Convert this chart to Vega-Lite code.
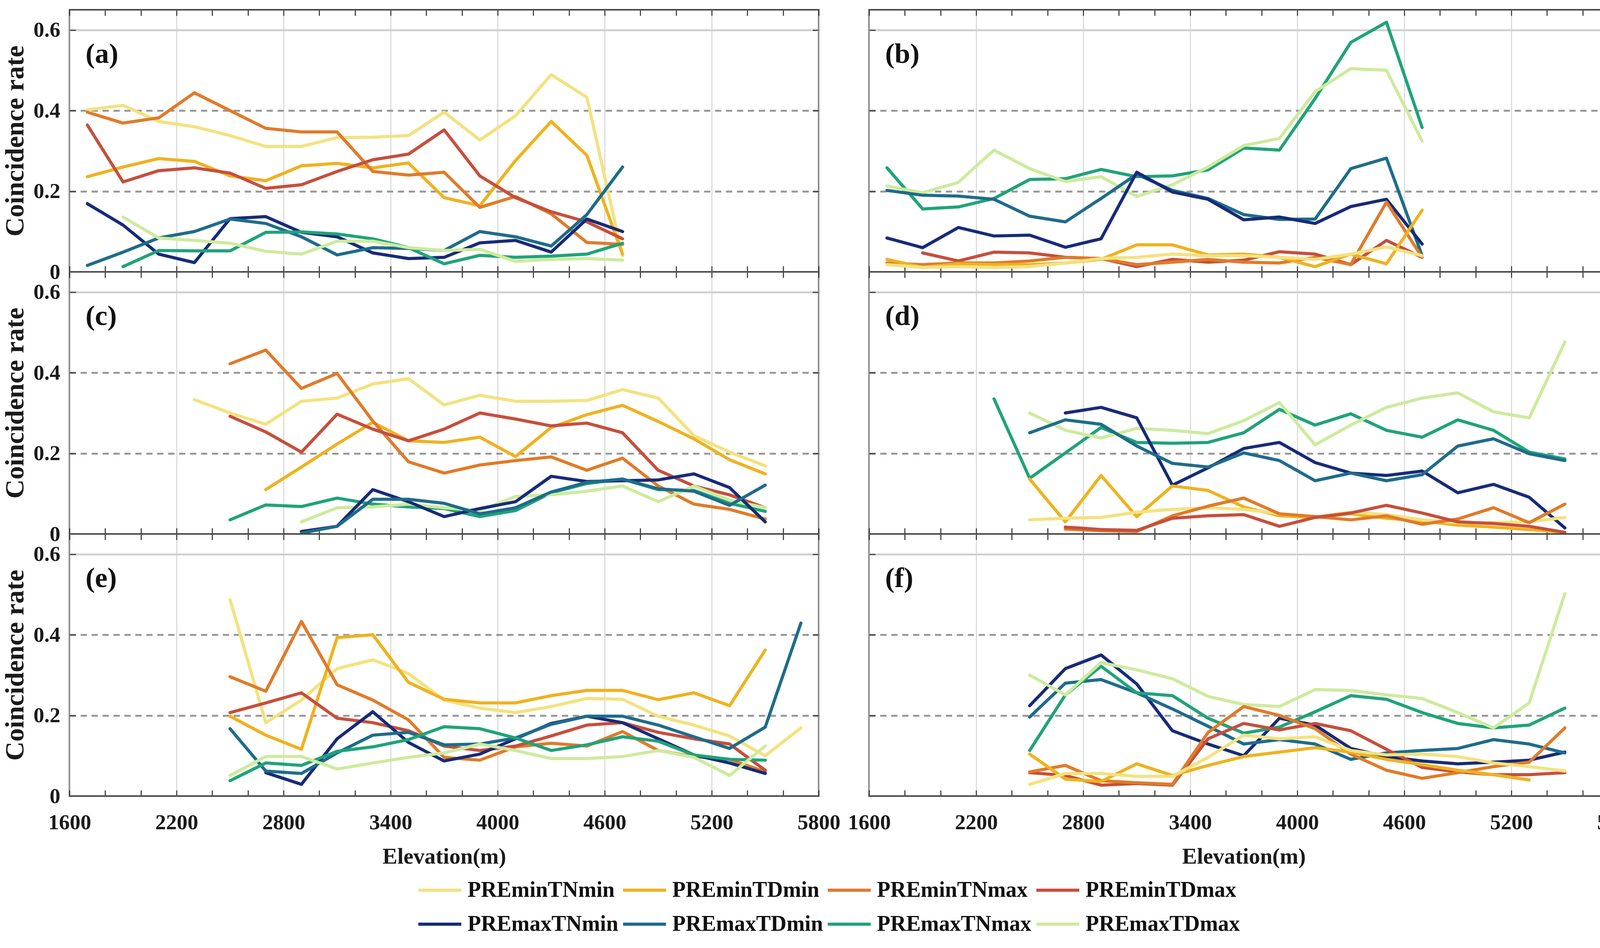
{
"$schema": "https://vega.github.io/schema/vega-lite/v6.json",
"background": "white",
"padding": {"left": 3, "top": 21, "right": 5, "bottom": 5},
"datasets": {"d": [
{"panel":"a","series":"PREminTNmin","elevation":1700,"rate":0.402},{"panel":"a","series":"PREminTNmin","elevation":1900,"rate":0.413},{"panel":"a","series":"PREminTNmin","elevation":2100,"rate":0.373},{"panel":"a","series":"PREminTNmin","elevation":2300,"rate":0.36},{"panel":"a","series":"PREminTNmin","elevation":2500,"rate":0.338},{"panel":"a","series":"PREminTNmin","elevation":2700,"rate":0.311},{"panel":"a","series":"PREminTNmin","elevation":2900,"rate":0.311},{"panel":"a","series":"PREminTNmin","elevation":3100,"rate":0.333},{"panel":"a","series":"PREminTNmin","elevation":3300,"rate":0.334},{"panel":"a","series":"PREminTNmin","elevation":3500,"rate":0.338},{"panel":"a","series":"PREminTNmin","elevation":3700,"rate":0.396},{"panel":"a","series":"PREminTNmin","elevation":3900,"rate":0.327},{"panel":"a","series":"PREminTNmin","elevation":4100,"rate":0.387},{"panel":"a","series":"PREminTNmin","elevation":4300,"rate":0.489},{"panel":"a","series":"PREminTNmin","elevation":4500,"rate":0.433},{"panel":"a","series":"PREminTNmin","elevation":4700,"rate":0.04},
{"panel":"a","series":"PREminTDmin","elevation":1700,"rate":0.236},{"panel":"a","series":"PREminTDmin","elevation":1900,"rate":0.26},{"panel":"a","series":"PREminTDmin","elevation":2100,"rate":0.281},{"panel":"a","series":"PREminTDmin","elevation":2300,"rate":0.274},{"panel":"a","series":"PREminTDmin","elevation":2500,"rate":0.238},{"panel":"a","series":"PREminTDmin","elevation":2700,"rate":0.226},{"panel":"a","series":"PREminTDmin","elevation":2900,"rate":0.263},{"panel":"a","series":"PREminTDmin","elevation":3100,"rate":0.269},{"panel":"a","series":"PREminTDmin","elevation":3300,"rate":0.258},{"panel":"a","series":"PREminTDmin","elevation":3500,"rate":0.27},{"panel":"a","series":"PREminTDmin","elevation":3700,"rate":0.184},{"panel":"a","series":"PREminTDmin","elevation":3900,"rate":0.164},{"panel":"a","series":"PREminTDmin","elevation":4100,"rate":0.276},{"panel":"a","series":"PREminTDmin","elevation":4300,"rate":0.373},{"panel":"a","series":"PREminTDmin","elevation":4500,"rate":0.289},{"panel":"a","series":"PREminTDmin","elevation":4700,"rate":0.044},
{"panel":"a","series":"PREminTNmax","elevation":1700,"rate":0.396},{"panel":"a","series":"PREminTNmax","elevation":1900,"rate":0.369},{"panel":"a","series":"PREminTNmax","elevation":2100,"rate":0.382},{"panel":"a","series":"PREminTNmax","elevation":2300,"rate":0.444},{"panel":"a","series":"PREminTNmax","elevation":2500,"rate":0.4},{"panel":"a","series":"PREminTNmax","elevation":2700,"rate":0.356},{"panel":"a","series":"PREminTNmax","elevation":2900,"rate":0.347},{"panel":"a","series":"PREminTNmax","elevation":3100,"rate":0.347},{"panel":"a","series":"PREminTNmax","elevation":3300,"rate":0.249},{"panel":"a","series":"PREminTNmax","elevation":3500,"rate":0.24},{"panel":"a","series":"PREminTNmax","elevation":3700,"rate":0.247},{"panel":"a","series":"PREminTNmax","elevation":3900,"rate":0.16},{"panel":"a","series":"PREminTNmax","elevation":4100,"rate":0.187},{"panel":"a","series":"PREminTNmax","elevation":4300,"rate":0.144},{"panel":"a","series":"PREminTNmax","elevation":4500,"rate":0.073},{"panel":"a","series":"PREminTNmax","elevation":4700,"rate":0.068},
{"panel":"a","series":"PREminTDmax","elevation":1700,"rate":0.364},{"panel":"a","series":"PREminTDmax","elevation":1900,"rate":0.223},{"panel":"a","series":"PREminTDmax","elevation":2100,"rate":0.251},{"panel":"a","series":"PREminTDmax","elevation":2300,"rate":0.258},{"panel":"a","series":"PREminTDmax","elevation":2500,"rate":0.245},{"panel":"a","series":"PREminTDmax","elevation":2700,"rate":0.207},{"panel":"a","series":"PREminTDmax","elevation":2900,"rate":0.216},{"panel":"a","series":"PREminTDmax","elevation":3100,"rate":0.249},{"panel":"a","series":"PREminTDmax","elevation":3300,"rate":0.278},{"panel":"a","series":"PREminTDmax","elevation":3500,"rate":0.292},{"panel":"a","series":"PREminTDmax","elevation":3700,"rate":0.352},{"panel":"a","series":"PREminTDmax","elevation":3900,"rate":0.238},{"panel":"a","series":"PREminTDmax","elevation":4100,"rate":0.184},{"panel":"a","series":"PREminTDmax","elevation":4300,"rate":0.149},{"panel":"a","series":"PREminTDmax","elevation":4500,"rate":0.124},{"panel":"a","series":"PREminTDmax","elevation":4700,"rate":0.082},
{"panel":"a","series":"PREmaxTNmin","elevation":1700,"rate":0.169},{"panel":"a","series":"PREmaxTNmin","elevation":1900,"rate":0.116},{"panel":"a","series":"PREmaxTNmin","elevation":2100,"rate":0.044},{"panel":"a","series":"PREmaxTNmin","elevation":2300,"rate":0.023},{"panel":"a","series":"PREmaxTNmin","elevation":2500,"rate":0.132},{"panel":"a","series":"PREmaxTNmin","elevation":2700,"rate":0.137},{"panel":"a","series":"PREmaxTNmin","elevation":2900,"rate":0.098},{"panel":"a","series":"PREmaxTNmin","elevation":3100,"rate":0.087},{"panel":"a","series":"PREmaxTNmin","elevation":3300,"rate":0.047},{"panel":"a","series":"PREmaxTNmin","elevation":3500,"rate":0.033},{"panel":"a","series":"PREmaxTNmin","elevation":3700,"rate":0.036},{"panel":"a","series":"PREmaxTNmin","elevation":3900,"rate":0.072},{"panel":"a","series":"PREmaxTNmin","elevation":4100,"rate":0.078},{"panel":"a","series":"PREmaxTNmin","elevation":4300,"rate":0.049},{"panel":"a","series":"PREmaxTNmin","elevation":4500,"rate":0.131},{"panel":"a","series":"PREmaxTNmin","elevation":4700,"rate":0.1},
{"panel":"a","series":"PREmaxTDmin","elevation":1700,"rate":0.016},{"panel":"a","series":"PREmaxTDmin","elevation":1900,"rate":0.049},{"panel":"a","series":"PREmaxTDmin","elevation":2100,"rate":0.084},{"panel":"a","series":"PREmaxTDmin","elevation":2300,"rate":0.1},{"panel":"a","series":"PREmaxTDmin","elevation":2500,"rate":0.131},{"panel":"a","series":"PREmaxTDmin","elevation":2700,"rate":0.12},{"panel":"a","series":"PREmaxTDmin","elevation":2900,"rate":0.087},{"panel":"a","series":"PREmaxTDmin","elevation":3100,"rate":0.042},{"panel":"a","series":"PREmaxTDmin","elevation":3300,"rate":0.06},{"panel":"a","series":"PREmaxTDmin","elevation":3500,"rate":0.058},{"panel":"a","series":"PREmaxTDmin","elevation":3700,"rate":0.053},{"panel":"a","series":"PREmaxTDmin","elevation":3900,"rate":0.1},{"panel":"a","series":"PREmaxTDmin","elevation":4100,"rate":0.087},{"panel":"a","series":"PREmaxTDmin","elevation":4300,"rate":0.064},{"panel":"a","series":"PREmaxTDmin","elevation":4500,"rate":0.142},{"panel":"a","series":"PREmaxTDmin","elevation":4700,"rate":0.26},
{"panel":"a","series":"PREmaxTNmax","elevation":1900,"rate":0.013},{"panel":"a","series":"PREmaxTNmax","elevation":2100,"rate":0.053},{"panel":"a","series":"PREmaxTNmax","elevation":2300,"rate":0.052},{"panel":"a","series":"PREmaxTNmax","elevation":2500,"rate":0.052},{"panel":"a","series":"PREmaxTNmax","elevation":2700,"rate":0.098},{"panel":"a","series":"PREmaxTNmax","elevation":2900,"rate":0.099},{"panel":"a","series":"PREmaxTNmax","elevation":3100,"rate":0.094},{"panel":"a","series":"PREmaxTNmax","elevation":3300,"rate":0.082},{"panel":"a","series":"PREmaxTNmax","elevation":3500,"rate":0.06},{"panel":"a","series":"PREmaxTNmax","elevation":3700,"rate":0.02},{"panel":"a","series":"PREmaxTNmax","elevation":3900,"rate":0.041},{"panel":"a","series":"PREmaxTNmax","elevation":4100,"rate":0.036},{"panel":"a","series":"PREmaxTNmax","elevation":4300,"rate":0.039},{"panel":"a","series":"PREmaxTNmax","elevation":4500,"rate":0.044},{"panel":"a","series":"PREmaxTNmax","elevation":4700,"rate":0.071},
{"panel":"a","series":"PREmaxTDmax","elevation":1900,"rate":0.136},{"panel":"a","series":"PREmaxTDmax","elevation":2100,"rate":0.084},{"panel":"a","series":"PREmaxTDmax","elevation":2300,"rate":0.078},{"panel":"a","series":"PREmaxTDmax","elevation":2500,"rate":0.071},{"panel":"a","series":"PREmaxTDmax","elevation":2700,"rate":0.051},{"panel":"a","series":"PREmaxTDmax","elevation":2900,"rate":0.044},{"panel":"a","series":"PREmaxTDmax","elevation":3100,"rate":0.076},{"panel":"a","series":"PREmaxTDmax","elevation":3300,"rate":0.076},{"panel":"a","series":"PREmaxTDmax","elevation":3500,"rate":0.06},{"panel":"a","series":"PREmaxTDmax","elevation":3700,"rate":0.053},{"panel":"a","series":"PREmaxTDmax","elevation":3900,"rate":0.056},{"panel":"a","series":"PREmaxTDmax","elevation":4100,"rate":0.026},{"panel":"a","series":"PREmaxTDmax","elevation":4300,"rate":0.031},{"panel":"a","series":"PREmaxTDmax","elevation":4500,"rate":0.033},{"panel":"a","series":"PREmaxTDmax","elevation":4700,"rate":0.029},

{"panel":"b","series":"PREmaxTNmax","elevation":1700,"rate":0.258},{"panel":"b","series":"PREmaxTNmax","elevation":1900,"rate":0.156},{"panel":"b","series":"PREmaxTNmax","elevation":2100,"rate":0.161},{"panel":"b","series":"PREmaxTNmax","elevation":2300,"rate":0.182},{"panel":"b","series":"PREmaxTNmax","elevation":2500,"rate":0.229},{"panel":"b","series":"PREmaxTNmax","elevation":2700,"rate":0.231},{"panel":"b","series":"PREmaxTNmax","elevation":2900,"rate":0.254},{"panel":"b","series":"PREmaxTNmax","elevation":3100,"rate":0.236},{"panel":"b","series":"PREmaxTNmax","elevation":3300,"rate":0.238},{"panel":"b","series":"PREmaxTNmax","elevation":3500,"rate":0.253},{"panel":"b","series":"PREmaxTNmax","elevation":3700,"rate":0.307},{"panel":"b","series":"PREmaxTNmax","elevation":3900,"rate":0.302},{"panel":"b","series":"PREmaxTNmax","elevation":4100,"rate":0.43},{"panel":"b","series":"PREmaxTNmax","elevation":4300,"rate":0.569},{"panel":"b","series":"PREmaxTNmax","elevation":4500,"rate":0.619},{"panel":"b","series":"PREmaxTNmax","elevation":4700,"rate":0.358},
{"panel":"b","series":"PREmaxTDmax","elevation":1700,"rate":0.213},{"panel":"b","series":"PREmaxTDmax","elevation":1900,"rate":0.196},{"panel":"b","series":"PREmaxTDmax","elevation":2100,"rate":0.222},{"panel":"b","series":"PREmaxTDmax","elevation":2300,"rate":0.302},{"panel":"b","series":"PREmaxTDmax","elevation":2500,"rate":0.256},{"panel":"b","series":"PREmaxTDmax","elevation":2700,"rate":0.224},{"panel":"b","series":"PREmaxTDmax","elevation":2900,"rate":0.236},{"panel":"b","series":"PREmaxTDmax","elevation":3100,"rate":0.187},{"panel":"b","series":"PREmaxTDmax","elevation":3300,"rate":0.216},{"panel":"b","series":"PREmaxTDmax","elevation":3500,"rate":0.26},{"panel":"b","series":"PREmaxTDmax","elevation":3700,"rate":0.313},{"panel":"b","series":"PREmaxTDmax","elevation":3900,"rate":0.331},{"panel":"b","series":"PREmaxTDmax","elevation":4100,"rate":0.447},{"panel":"b","series":"PREmaxTDmax","elevation":4300,"rate":0.504},{"panel":"b","series":"PREmaxTDmax","elevation":4500,"rate":0.5},{"panel":"b","series":"PREmaxTDmax","elevation":4700,"rate":0.324},
{"panel":"b","series":"PREmaxTDmin","elevation":1700,"rate":0.202},{"panel":"b","series":"PREmaxTDmin","elevation":1900,"rate":0.19},{"panel":"b","series":"PREmaxTDmin","elevation":2100,"rate":0.188},{"panel":"b","series":"PREmaxTDmin","elevation":2300,"rate":0.18},{"panel":"b","series":"PREmaxTDmin","elevation":2500,"rate":0.138},{"panel":"b","series":"PREmaxTDmin","elevation":2700,"rate":0.124},{"panel":"b","series":"PREmaxTDmin","elevation":2900,"rate":0.182},{"panel":"b","series":"PREmaxTDmin","elevation":3100,"rate":0.242},{"panel":"b","series":"PREmaxTDmin","elevation":3300,"rate":0.202},{"panel":"b","series":"PREmaxTDmin","elevation":3500,"rate":0.182},{"panel":"b","series":"PREmaxTDmin","elevation":3700,"rate":0.142},{"panel":"b","series":"PREmaxTDmin","elevation":3900,"rate":0.13},{"panel":"b","series":"PREmaxTDmin","elevation":4100,"rate":0.131},{"panel":"b","series":"PREmaxTDmin","elevation":4300,"rate":0.256},{"panel":"b","series":"PREmaxTDmin","elevation":4500,"rate":0.282},{"panel":"b","series":"PREmaxTDmin","elevation":4700,"rate":0.04},
{"panel":"b","series":"PREmaxTNmin","elevation":1700,"rate":0.084},{"panel":"b","series":"PREmaxTNmin","elevation":1900,"rate":0.06},{"panel":"b","series":"PREmaxTNmin","elevation":2100,"rate":0.11},{"panel":"b","series":"PREmaxTNmin","elevation":2300,"rate":0.089},{"panel":"b","series":"PREmaxTNmin","elevation":2500,"rate":0.091},{"panel":"b","series":"PREmaxTNmin","elevation":2700,"rate":0.061},{"panel":"b","series":"PREmaxTNmin","elevation":2900,"rate":0.082},{"panel":"b","series":"PREmaxTNmin","elevation":3100,"rate":0.247},{"panel":"b","series":"PREmaxTNmin","elevation":3300,"rate":0.198},{"panel":"b","series":"PREmaxTNmin","elevation":3500,"rate":0.18},{"panel":"b","series":"PREmaxTNmin","elevation":3700,"rate":0.129},{"panel":"b","series":"PREmaxTNmin","elevation":3900,"rate":0.136},{"panel":"b","series":"PREmaxTNmin","elevation":4100,"rate":0.12},{"panel":"b","series":"PREmaxTNmin","elevation":4300,"rate":0.162},{"panel":"b","series":"PREmaxTNmin","elevation":4500,"rate":0.18},{"panel":"b","series":"PREmaxTNmin","elevation":4700,"rate":0.069},
{"panel":"b","series":"PREminTDmax","elevation":1900,"rate":0.047},{"panel":"b","series":"PREminTDmax","elevation":2100,"rate":0.027},{"panel":"b","series":"PREminTDmax","elevation":2300,"rate":0.049},{"panel":"b","series":"PREminTDmax","elevation":2500,"rate":0.047},{"panel":"b","series":"PREminTDmax","elevation":2700,"rate":0.036},{"panel":"b","series":"PREminTDmax","elevation":2900,"rate":0.033},{"panel":"b","series":"PREminTDmax","elevation":3100,"rate":0.013},{"panel":"b","series":"PREminTDmax","elevation":3300,"rate":0.031},{"panel":"b","series":"PREminTDmax","elevation":3500,"rate":0.024},{"panel":"b","series":"PREminTDmax","elevation":3700,"rate":0.029},{"panel":"b","series":"PREminTDmax","elevation":3900,"rate":0.05},{"panel":"b","series":"PREminTDmax","elevation":4100,"rate":0.044},{"panel":"b","series":"PREminTDmax","elevation":4300,"rate":0.018},{"panel":"b","series":"PREminTDmax","elevation":4500,"rate":0.078},{"panel":"b","series":"PREminTDmax","elevation":4700,"rate":0.036},
{"panel":"b","series":"PREminTNmax","elevation":1700,"rate":0.022},{"panel":"b","series":"PREminTNmax","elevation":1900,"rate":0.018},{"panel":"b","series":"PREminTNmax","elevation":2100,"rate":0.022},{"panel":"b","series":"PREminTNmax","elevation":2300,"rate":0.022},{"panel":"b","series":"PREminTNmax","elevation":2500,"rate":0.027},{"panel":"b","series":"PREminTNmax","elevation":2700,"rate":0.036},{"panel":"b","series":"PREminTNmax","elevation":2900,"rate":0.033},{"panel":"b","series":"PREminTNmax","elevation":3100,"rate":0.018},{"panel":"b","series":"PREminTNmax","elevation":3300,"rate":0.024},{"panel":"b","series":"PREminTNmax","elevation":3500,"rate":0.031},{"panel":"b","series":"PREminTNmax","elevation":3700,"rate":0.024},{"panel":"b","series":"PREminTNmax","elevation":3900,"rate":0.022},{"panel":"b","series":"PREminTNmax","elevation":4100,"rate":0.036},{"panel":"b","series":"PREminTNmax","elevation":4300,"rate":0.018},{"panel":"b","series":"PREminTNmax","elevation":4500,"rate":0.173},{"panel":"b","series":"PREminTNmax","elevation":4700,"rate":0.036},
{"panel":"b","series":"PREminTDmin","elevation":1700,"rate":0.031},{"panel":"b","series":"PREminTDmin","elevation":1900,"rate":0.011},{"panel":"b","series":"PREminTDmin","elevation":2100,"rate":0.02},{"panel":"b","series":"PREminTDmin","elevation":2300,"rate":0.018},{"panel":"b","series":"PREminTDmin","elevation":2500,"rate":0.018},{"panel":"b","series":"PREminTDmin","elevation":2700,"rate":0.022},{"panel":"b","series":"PREminTDmin","elevation":2900,"rate":0.031},{"panel":"b","series":"PREminTDmin","elevation":3100,"rate":0.067},{"panel":"b","series":"PREminTDmin","elevation":3300,"rate":0.067},{"panel":"b","series":"PREminTDmin","elevation":3500,"rate":0.042},{"panel":"b","series":"PREminTDmin","elevation":3700,"rate":0.044},{"panel":"b","series":"PREminTDmin","elevation":3900,"rate":0.036},{"panel":"b","series":"PREminTDmin","elevation":4100,"rate":0.013},{"panel":"b","series":"PREminTDmin","elevation":4300,"rate":0.044},{"panel":"b","series":"PREminTDmin","elevation":4500,"rate":0.02},{"panel":"b","series":"PREminTDmin","elevation":4700,"rate":0.153},
{"panel":"b","series":"PREminTNmin","elevation":1700,"rate":0.018},{"panel":"b","series":"PREminTNmin","elevation":1900,"rate":0.011},{"panel":"b","series":"PREminTNmin","elevation":2100,"rate":0.013},{"panel":"b","series":"PREminTNmin","elevation":2300,"rate":0.011},{"panel":"b","series":"PREminTNmin","elevation":2500,"rate":0.013},{"panel":"b","series":"PREminTNmin","elevation":2700,"rate":0.022},{"panel":"b","series":"PREminTNmin","elevation":2900,"rate":0.033},{"panel":"b","series":"PREminTNmin","elevation":3100,"rate":0.036},{"panel":"b","series":"PREminTNmin","elevation":3300,"rate":0.044},{"panel":"b","series":"PREminTNmin","elevation":3500,"rate":0.04},{"panel":"b","series":"PREminTNmin","elevation":3700,"rate":0.04},{"panel":"b","series":"PREminTNmin","elevation":3900,"rate":0.036},{"panel":"b","series":"PREminTNmin","elevation":4100,"rate":0.031},{"panel":"b","series":"PREminTNmin","elevation":4300,"rate":0.044},{"panel":"b","series":"PREminTNmin","elevation":4500,"rate":0.062},{"panel":"b","series":"PREminTNmin","elevation":4700,"rate":0.04},

{"panel":"c","series":"PREminTNmin","elevation":2300,"rate":0.333},{"panel":"c","series":"PREminTNmin","elevation":2500,"rate":0.3},{"panel":"c","series":"PREminTNmin","elevation":2700,"rate":0.272},{"panel":"c","series":"PREminTNmin","elevation":2900,"rate":0.329},{"panel":"c","series":"PREminTNmin","elevation":3100,"rate":0.337},{"panel":"c","series":"PREminTNmin","elevation":3300,"rate":0.372},{"panel":"c","series":"PREminTNmin","elevation":3500,"rate":0.385},{"panel":"c","series":"PREminTNmin","elevation":3700,"rate":0.32},{"panel":"c","series":"PREminTNmin","elevation":3900,"rate":0.344},{"panel":"c","series":"PREminTNmin","elevation":4100,"rate":0.329},{"panel":"c","series":"PREminTNmin","elevation":4300,"rate":0.329},{"panel":"c","series":"PREminTNmin","elevation":4500,"rate":0.331},{"panel":"c","series":"PREminTNmin","elevation":4700,"rate":0.358},{"panel":"c","series":"PREminTNmin","elevation":4900,"rate":0.337},{"panel":"c","series":"PREminTNmin","elevation":5100,"rate":0.244},{"panel":"c","series":"PREminTNmin","elevation":5300,"rate":0.203},{"panel":"c","series":"PREminTNmin","elevation":5500,"rate":0.169},
{"panel":"c","series":"PREminTDmin","elevation":2700,"rate":0.11},{"panel":"c","series":"PREminTDmin","elevation":2900,"rate":0.166},{"panel":"c","series":"PREminTDmin","elevation":3100,"rate":0.223},{"panel":"c","series":"PREminTDmin","elevation":3300,"rate":0.277},{"panel":"c","series":"PREminTDmin","elevation":3500,"rate":0.231},{"panel":"c","series":"PREminTDmin","elevation":3700,"rate":0.227},{"panel":"c","series":"PREminTDmin","elevation":3900,"rate":0.24},{"panel":"c","series":"PREminTDmin","elevation":4100,"rate":0.192},{"panel":"c","series":"PREminTDmin","elevation":4300,"rate":0.264},{"panel":"c","series":"PREminTDmin","elevation":4500,"rate":0.296},{"panel":"c","series":"PREminTDmin","elevation":4700,"rate":0.319},{"panel":"c","series":"PREminTDmin","elevation":4900,"rate":0.279},{"panel":"c","series":"PREminTDmin","elevation":5100,"rate":0.236},{"panel":"c","series":"PREminTDmin","elevation":5300,"rate":0.184},{"panel":"c","series":"PREminTDmin","elevation":5500,"rate":0.149},
{"panel":"c","series":"PREminTNmax","elevation":2500,"rate":0.422},{"panel":"c","series":"PREminTNmax","elevation":2700,"rate":0.456},{"panel":"c","series":"PREminTNmax","elevation":2900,"rate":0.361},{"panel":"c","series":"PREminTNmax","elevation":3100,"rate":0.398},{"panel":"c","series":"PREminTNmax","elevation":3300,"rate":0.28},{"panel":"c","series":"PREminTNmax","elevation":3500,"rate":0.179},{"panel":"c","series":"PREminTNmax","elevation":3700,"rate":0.151},{"panel":"c","series":"PREminTNmax","elevation":3900,"rate":0.171},{"panel":"c","series":"PREminTNmax","elevation":4100,"rate":0.182},{"panel":"c","series":"PREminTNmax","elevation":4300,"rate":0.191},{"panel":"c","series":"PREminTNmax","elevation":4500,"rate":0.158},{"panel":"c","series":"PREminTNmax","elevation":4700,"rate":0.188},{"panel":"c","series":"PREminTNmax","elevation":4900,"rate":0.119},{"panel":"c","series":"PREminTNmax","elevation":5100,"rate":0.074},{"panel":"c","series":"PREminTNmax","elevation":5300,"rate":0.061},{"panel":"c","series":"PREminTNmax","elevation":5500,"rate":0.037},
{"panel":"c","series":"PREminTDmax","elevation":2500,"rate":0.292},{"panel":"c","series":"PREminTDmax","elevation":2700,"rate":0.253},{"panel":"c","series":"PREminTDmax","elevation":2900,"rate":0.203},{"panel":"c","series":"PREminTDmax","elevation":3100,"rate":0.297},{"panel":"c","series":"PREminTDmax","elevation":3300,"rate":0.26},{"panel":"c","series":"PREminTDmax","elevation":3500,"rate":0.231},{"panel":"c","series":"PREminTDmax","elevation":3700,"rate":0.26},{"panel":"c","series":"PREminTDmax","elevation":3900,"rate":0.3},{"panel":"c","series":"PREminTDmax","elevation":4100,"rate":0.285},{"panel":"c","series":"PREminTDmax","elevation":4300,"rate":0.268},{"panel":"c","series":"PREminTDmax","elevation":4500,"rate":0.275},{"panel":"c","series":"PREminTDmax","elevation":4700,"rate":0.251},{"panel":"c","series":"PREminTDmax","elevation":4900,"rate":0.158},{"panel":"c","series":"PREminTDmax","elevation":5100,"rate":0.119},{"panel":"c","series":"PREminTDmax","elevation":5300,"rate":0.097},{"panel":"c","series":"PREminTDmax","elevation":5500,"rate":0.065},
{"panel":"c","series":"PREmaxTNmax","elevation":2500,"rate":0.035},{"panel":"c","series":"PREmaxTNmax","elevation":2700,"rate":0.072},{"panel":"c","series":"PREmaxTNmax","elevation":2900,"rate":0.068},{"panel":"c","series":"PREmaxTNmax","elevation":3100,"rate":0.089},{"panel":"c","series":"PREmaxTNmax","elevation":3300,"rate":0.074},{"panel":"c","series":"PREmaxTNmax","elevation":3500,"rate":0.067},{"panel":"c","series":"PREmaxTNmax","elevation":3700,"rate":0.063},{"panel":"c","series":"PREmaxTNmax","elevation":3900,"rate":0.043},{"panel":"c","series":"PREmaxTNmax","elevation":4100,"rate":0.058},{"panel":"c","series":"PREmaxTNmax","elevation":4300,"rate":0.102},{"panel":"c","series":"PREmaxTNmax","elevation":4500,"rate":0.125},{"panel":"c","series":"PREmaxTNmax","elevation":4700,"rate":0.136},{"panel":"c","series":"PREmaxTNmax","elevation":4900,"rate":0.11},{"panel":"c","series":"PREmaxTNmax","elevation":5100,"rate":0.108},{"panel":"c","series":"PREmaxTNmax","elevation":5300,"rate":0.076},{"panel":"c","series":"PREmaxTNmax","elevation":5500,"rate":0.056},
{"panel":"c","series":"PREmaxTDmax","elevation":2900,"rate":0.03},{"panel":"c","series":"PREmaxTDmax","elevation":3100,"rate":0.065},{"panel":"c","series":"PREmaxTDmax","elevation":3300,"rate":0.067},{"panel":"c","series":"PREmaxTDmax","elevation":3500,"rate":0.074},{"panel":"c","series":"PREmaxTDmax","elevation":3700,"rate":0.065},{"panel":"c","series":"PREmaxTDmax","elevation":3900,"rate":0.058},{"panel":"c","series":"PREmaxTDmax","elevation":4100,"rate":0.093},{"panel":"c","series":"PREmaxTDmax","elevation":4300,"rate":0.097},{"panel":"c","series":"PREmaxTDmax","elevation":4500,"rate":0.106},{"panel":"c","series":"PREmaxTDmax","elevation":4700,"rate":0.119},{"panel":"c","series":"PREmaxTDmax","elevation":4900,"rate":0.08},{"panel":"c","series":"PREmaxTDmax","elevation":5100,"rate":0.119},{"panel":"c","series":"PREmaxTDmax","elevation":5300,"rate":0.084},{"panel":"c","series":"PREmaxTDmax","elevation":5500,"rate":0.065},
{"panel":"c","series":"PREmaxTNmin","elevation":2900,"rate":0.006},{"panel":"c","series":"PREmaxTNmin","elevation":3100,"rate":0.019},{"panel":"c","series":"PREmaxTNmin","elevation":3300,"rate":0.11},{"panel":"c","series":"PREmaxTNmin","elevation":3500,"rate":0.08},{"panel":"c","series":"PREmaxTNmin","elevation":3700,"rate":0.043},{"panel":"c","series":"PREmaxTNmin","elevation":3900,"rate":0.063},{"panel":"c","series":"PREmaxTNmin","elevation":4100,"rate":0.08},{"panel":"c","series":"PREmaxTNmin","elevation":4300,"rate":0.143},{"panel":"c","series":"PREmaxTNmin","elevation":4500,"rate":0.13},{"panel":"c","series":"PREmaxTNmin","elevation":4700,"rate":0.132},{"panel":"c","series":"PREmaxTNmin","elevation":4900,"rate":0.134},{"panel":"c","series":"PREmaxTNmin","elevation":5100,"rate":0.149},{"panel":"c","series":"PREmaxTNmin","elevation":5300,"rate":0.115},{"panel":"c","series":"PREmaxTNmin","elevation":5500,"rate":0.03},
{"panel":"c","series":"PREmaxTDmin","elevation":2900,"rate":0.002},{"panel":"c","series":"PREmaxTDmin","elevation":3100,"rate":0.019},{"panel":"c","series":"PREmaxTDmin","elevation":3300,"rate":0.086},{"panel":"c","series":"PREmaxTDmin","elevation":3500,"rate":0.086},{"panel":"c","series":"PREmaxTDmin","elevation":3700,"rate":0.076},{"panel":"c","series":"PREmaxTDmin","elevation":3900,"rate":0.05},{"panel":"c","series":"PREmaxTDmin","elevation":4100,"rate":0.065},{"panel":"c","series":"PREmaxTDmin","elevation":4300,"rate":0.104},{"panel":"c","series":"PREmaxTDmin","elevation":4500,"rate":0.128},{"panel":"c","series":"PREmaxTDmin","elevation":4700,"rate":0.136},{"panel":"c","series":"PREmaxTDmin","elevation":4900,"rate":0.112},{"panel":"c","series":"PREmaxTDmin","elevation":5100,"rate":0.106},{"panel":"c","series":"PREmaxTDmin","elevation":5300,"rate":0.071},{"panel":"c","series":"PREmaxTDmin","elevation":5500,"rate":0.121},

{"panel":"d","series":"PREmaxTNmax","elevation":2300,"rate":0.335},{"panel":"d","series":"PREmaxTNmax","elevation":2500,"rate":0.138},{"panel":"d","series":"PREmaxTNmax","elevation":2700,"rate":0.201},{"panel":"d","series":"PREmaxTNmax","elevation":2900,"rate":0.264},{"panel":"d","series":"PREmaxTNmax","elevation":3100,"rate":0.227},{"panel":"d","series":"PREmaxTNmax","elevation":3300,"rate":0.225},{"panel":"d","series":"PREmaxTNmax","elevation":3500,"rate":0.227},{"panel":"d","series":"PREmaxTNmax","elevation":3700,"rate":0.251},{"panel":"d","series":"PREmaxTNmax","elevation":3900,"rate":0.309},{"panel":"d","series":"PREmaxTNmax","elevation":4100,"rate":0.27},{"panel":"d","series":"PREmaxTNmax","elevation":4300,"rate":0.298},{"panel":"d","series":"PREmaxTNmax","elevation":4500,"rate":0.257},{"panel":"d","series":"PREmaxTNmax","elevation":4700,"rate":0.24},{"panel":"d","series":"PREmaxTNmax","elevation":4900,"rate":0.283},{"panel":"d","series":"PREmaxTNmax","elevation":5100,"rate":0.257},{"panel":"d","series":"PREmaxTNmax","elevation":5300,"rate":0.203},{"panel":"d","series":"PREmaxTNmax","elevation":5500,"rate":0.186},
{"panel":"d","series":"PREmaxTDmax","elevation":2500,"rate":0.3},{"panel":"d","series":"PREmaxTDmax","elevation":2700,"rate":0.257},{"panel":"d","series":"PREmaxTDmax","elevation":2900,"rate":0.238},{"panel":"d","series":"PREmaxTDmax","elevation":3100,"rate":0.262},{"panel":"d","series":"PREmaxTDmax","elevation":3300,"rate":0.257},{"panel":"d","series":"PREmaxTDmax","elevation":3500,"rate":0.249},{"panel":"d","series":"PREmaxTDmax","elevation":3700,"rate":0.281},{"panel":"d","series":"PREmaxTDmax","elevation":3900,"rate":0.326},{"panel":"d","series":"PREmaxTDmax","elevation":4100,"rate":0.221},{"panel":"d","series":"PREmaxTDmax","elevation":4300,"rate":0.27},{"panel":"d","series":"PREmaxTDmax","elevation":4500,"rate":0.314},{"panel":"d","series":"PREmaxTDmax","elevation":4700,"rate":0.337},{"panel":"d","series":"PREmaxTDmax","elevation":4900,"rate":0.35},{"panel":"d","series":"PREmaxTDmax","elevation":5100,"rate":0.303},{"panel":"d","series":"PREmaxTDmax","elevation":5300,"rate":0.288},{"panel":"d","series":"PREmaxTDmax","elevation":5500,"rate":0.476},
{"panel":"d","series":"PREmaxTNmin","elevation":2700,"rate":0.3},{"panel":"d","series":"PREmaxTNmin","elevation":2900,"rate":0.314},{"panel":"d","series":"PREmaxTNmin","elevation":3100,"rate":0.288},{"panel":"d","series":"PREmaxTNmin","elevation":3300,"rate":0.121},{"panel":"d","series":"PREmaxTNmin","elevation":3500,"rate":0.164},{"panel":"d","series":"PREmaxTNmin","elevation":3700,"rate":0.212},{"panel":"d","series":"PREmaxTNmin","elevation":3900,"rate":0.227},{"panel":"d","series":"PREmaxTNmin","elevation":4100,"rate":0.177},{"panel":"d","series":"PREmaxTNmin","elevation":4300,"rate":0.151},{"panel":"d","series":"PREmaxTNmin","elevation":4500,"rate":0.145},{"panel":"d","series":"PREmaxTNmin","elevation":4700,"rate":0.156},{"panel":"d","series":"PREmaxTNmin","elevation":4900,"rate":0.102},{"panel":"d","series":"PREmaxTNmin","elevation":5100,"rate":0.123},{"panel":"d","series":"PREmaxTNmin","elevation":5300,"rate":0.091},{"panel":"d","series":"PREmaxTNmin","elevation":5500,"rate":0.015},
{"panel":"d","series":"PREmaxTDmin","elevation":2500,"rate":0.251},{"panel":"d","series":"PREmaxTDmin","elevation":2700,"rate":0.283},{"panel":"d","series":"PREmaxTDmin","elevation":2900,"rate":0.272},{"panel":"d","series":"PREmaxTDmin","elevation":3100,"rate":0.218},{"panel":"d","series":"PREmaxTDmin","elevation":3300,"rate":0.175},{"panel":"d","series":"PREmaxTDmin","elevation":3500,"rate":0.166},{"panel":"d","series":"PREmaxTDmin","elevation":3700,"rate":0.201},{"panel":"d","series":"PREmaxTDmin","elevation":3900,"rate":0.182},{"panel":"d","series":"PREmaxTDmin","elevation":4100,"rate":0.132},{"panel":"d","series":"PREmaxTDmin","elevation":4300,"rate":0.151},{"panel":"d","series":"PREmaxTDmin","elevation":4500,"rate":0.132},{"panel":"d","series":"PREmaxTDmin","elevation":4700,"rate":0.147},{"panel":"d","series":"PREmaxTDmin","elevation":4900,"rate":0.218},{"panel":"d","series":"PREmaxTDmin","elevation":5100,"rate":0.236},{"panel":"d","series":"PREmaxTDmin","elevation":5300,"rate":0.199},{"panel":"d","series":"PREmaxTDmin","elevation":5500,"rate":0.182},
{"panel":"d","series":"PREminTDmin","elevation":2500,"rate":0.136},{"panel":"d","series":"PREminTDmin","elevation":2700,"rate":0.03},{"panel":"d","series":"PREminTDmin","elevation":2900,"rate":0.145},{"panel":"d","series":"PREminTDmin","elevation":3100,"rate":0.043},{"panel":"d","series":"PREminTDmin","elevation":3300,"rate":0.119},{"panel":"d","series":"PREminTDmin","elevation":3500,"rate":0.108},{"panel":"d","series":"PREminTDmin","elevation":3700,"rate":0.067},{"panel":"d","series":"PREminTDmin","elevation":3900,"rate":0.045},{"panel":"d","series":"PREminTDmin","elevation":4100,"rate":0.041},{"panel":"d","series":"PREminTDmin","elevation":4300,"rate":0.05},{"panel":"d","series":"PREminTDmin","elevation":4500,"rate":0.039},{"panel":"d","series":"PREminTDmin","elevation":4700,"rate":0.032},{"panel":"d","series":"PREminTDmin","elevation":4900,"rate":0.022},{"panel":"d","series":"PREminTDmin","elevation":5100,"rate":0.017},{"panel":"d","series":"PREminTDmin","elevation":5300,"rate":0.011},{"panel":"d","series":"PREminTDmin","elevation":5500,"rate":0.004},
{"panel":"d","series":"PREminTNmin","elevation":2500,"rate":0.035},{"panel":"d","series":"PREminTNmin","elevation":2700,"rate":0.039},{"panel":"d","series":"PREminTNmin","elevation":2900,"rate":0.041},{"panel":"d","series":"PREminTNmin","elevation":3100,"rate":0.054},{"panel":"d","series":"PREminTNmin","elevation":3300,"rate":0.061},{"panel":"d","series":"PREminTNmin","elevation":3500,"rate":0.065},{"panel":"d","series":"PREminTNmin","elevation":3700,"rate":0.061},{"panel":"d","series":"PREminTNmin","elevation":3900,"rate":0.05},{"panel":"d","series":"PREminTNmin","elevation":4100,"rate":0.043},{"panel":"d","series":"PREminTNmin","elevation":4300,"rate":0.054},{"panel":"d","series":"PREminTNmin","elevation":4500,"rate":0.048},{"panel":"d","series":"PREminTNmin","elevation":4700,"rate":0.035},{"panel":"d","series":"PREminTNmin","elevation":4900,"rate":0.028},{"panel":"d","series":"PREminTNmin","elevation":5100,"rate":0.028},{"panel":"d","series":"PREminTNmin","elevation":5300,"rate":0.03},{"panel":"d","series":"PREminTNmin","elevation":5500,"rate":0.041},
{"panel":"d","series":"PREminTNmax","elevation":2700,"rate":0.012},{"panel":"d","series":"PREminTNmax","elevation":2900,"rate":0.008},{"panel":"d","series":"PREminTNmax","elevation":3100,"rate":0.006},{"panel":"d","series":"PREminTNmax","elevation":3300,"rate":0.045},{"panel":"d","series":"PREminTNmax","elevation":3500,"rate":0.069},{"panel":"d","series":"PREminTNmax","elevation":3700,"rate":0.089},{"panel":"d","series":"PREminTNmax","elevation":3900,"rate":0.05},{"panel":"d","series":"PREminTNmax","elevation":4100,"rate":0.043},{"panel":"d","series":"PREminTNmax","elevation":4300,"rate":0.035},{"panel":"d","series":"PREminTNmax","elevation":4500,"rate":0.045},{"panel":"d","series":"PREminTNmax","elevation":4700,"rate":0.024},{"panel":"d","series":"PREminTNmax","elevation":4900,"rate":0.037},{"panel":"d","series":"PREminTNmax","elevation":5100,"rate":0.065},{"panel":"d","series":"PREminTNmax","elevation":5300,"rate":0.028},{"panel":"d","series":"PREminTNmax","elevation":5500,"rate":0.074},
{"panel":"d","series":"PREminTDmax","elevation":2700,"rate":0.017},{"panel":"d","series":"PREminTDmax","elevation":2900,"rate":0.011},{"panel":"d","series":"PREminTDmax","elevation":3100,"rate":0.009},{"panel":"d","series":"PREminTDmax","elevation":3300,"rate":0.039},{"panel":"d","series":"PREminTDmax","elevation":3500,"rate":0.045},{"panel":"d","series":"PREminTDmax","elevation":3700,"rate":0.048},{"panel":"d","series":"PREminTDmax","elevation":3900,"rate":0.019},{"panel":"d","series":"PREminTDmax","elevation":4100,"rate":0.041},{"panel":"d","series":"PREminTDmax","elevation":4300,"rate":0.052},{"panel":"d","series":"PREminTDmax","elevation":4500,"rate":0.071},{"panel":"d","series":"PREminTDmax","elevation":4700,"rate":0.052},{"panel":"d","series":"PREminTDmax","elevation":4900,"rate":0.03},{"panel":"d","series":"PREminTDmax","elevation":5100,"rate":0.026},{"panel":"d","series":"PREminTDmax","elevation":5300,"rate":0.019},{"panel":"d","series":"PREminTDmax","elevation":5500,"rate":0.004},

{"panel":"e","series":"PREminTNmin","elevation":2500,"rate":0.487},{"panel":"e","series":"PREminTNmin","elevation":2700,"rate":0.182},{"panel":"e","series":"PREminTNmin","elevation":2900,"rate":0.238},{"panel":"e","series":"PREminTNmin","elevation":3100,"rate":0.316},{"panel":"e","series":"PREminTNmin","elevation":3300,"rate":0.338},{"panel":"e","series":"PREminTNmin","elevation":3500,"rate":0.304},{"panel":"e","series":"PREminTNmin","elevation":3700,"rate":0.238},{"panel":"e","series":"PREminTNmin","elevation":3900,"rate":0.218},{"panel":"e","series":"PREminTNmin","elevation":4100,"rate":0.207},{"panel":"e","series":"PREminTNmin","elevation":4300,"rate":0.222},{"panel":"e","series":"PREminTNmin","elevation":4500,"rate":0.242},{"panel":"e","series":"PREminTNmin","elevation":4700,"rate":0.24},{"panel":"e","series":"PREminTNmin","elevation":4900,"rate":0.198},{"panel":"e","series":"PREminTNmin","elevation":5100,"rate":0.176},{"panel":"e","series":"PREminTNmin","elevation":5300,"rate":0.149},{"panel":"e","series":"PREminTNmin","elevation":5500,"rate":0.1},{"panel":"e","series":"PREminTNmin","elevation":5700,"rate":0.169},
{"panel":"e","series":"PREminTDmin","elevation":2500,"rate":0.198},{"panel":"e","series":"PREminTDmin","elevation":2700,"rate":0.151},{"panel":"e","series":"PREminTDmin","elevation":2900,"rate":0.116},{"panel":"e","series":"PREminTDmin","elevation":3100,"rate":0.393},{"panel":"e","series":"PREminTDmin","elevation":3300,"rate":0.4},{"panel":"e","series":"PREminTDmin","elevation":3500,"rate":0.282},{"panel":"e","series":"PREminTDmin","elevation":3700,"rate":0.24},{"panel":"e","series":"PREminTDmin","elevation":3900,"rate":0.231},{"panel":"e","series":"PREminTDmin","elevation":4100,"rate":0.231},{"panel":"e","series":"PREminTDmin","elevation":4300,"rate":0.249},{"panel":"e","series":"PREminTDmin","elevation":4500,"rate":0.262},{"panel":"e","series":"PREminTDmin","elevation":4700,"rate":0.262},{"panel":"e","series":"PREminTDmin","elevation":4900,"rate":0.239},{"panel":"e","series":"PREminTDmin","elevation":5100,"rate":0.256},{"panel":"e","series":"PREminTDmin","elevation":5300,"rate":0.224},{"panel":"e","series":"PREminTDmin","elevation":5500,"rate":0.362},
{"panel":"e","series":"PREminTNmax","elevation":2500,"rate":0.296},{"panel":"e","series":"PREminTNmax","elevation":2700,"rate":0.26},{"panel":"e","series":"PREminTNmax","elevation":2900,"rate":0.433},{"panel":"e","series":"PREminTNmax","elevation":3100,"rate":0.276},{"panel":"e","series":"PREminTNmax","elevation":3300,"rate":0.238},{"panel":"e","series":"PREminTNmax","elevation":3500,"rate":0.189},{"panel":"e","series":"PREminTNmax","elevation":3700,"rate":0.096},{"panel":"e","series":"PREminTNmax","elevation":3900,"rate":0.089},{"panel":"e","series":"PREminTNmax","elevation":4100,"rate":0.122},{"panel":"e","series":"PREminTNmax","elevation":4300,"rate":0.131},{"panel":"e","series":"PREminTNmax","elevation":4500,"rate":0.124},{"panel":"e","series":"PREminTNmax","elevation":4700,"rate":0.16},{"panel":"e","series":"PREminTNmax","elevation":4900,"rate":0.113},{"panel":"e","series":"PREminTNmax","elevation":5100,"rate":0.098},{"panel":"e","series":"PREminTNmax","elevation":5300,"rate":0.091},{"panel":"e","series":"PREminTNmax","elevation":5500,"rate":0.06},
{"panel":"e","series":"PREminTDmax","elevation":2500,"rate":0.207},{"panel":"e","series":"PREminTDmax","elevation":2700,"rate":0.231},{"panel":"e","series":"PREminTDmax","elevation":2900,"rate":0.256},{"panel":"e","series":"PREminTDmax","elevation":3100,"rate":0.193},{"panel":"e","series":"PREminTDmax","elevation":3300,"rate":0.182},{"panel":"e","series":"PREminTDmax","elevation":3500,"rate":0.162},{"panel":"e","series":"PREminTDmax","elevation":3700,"rate":0.124},{"panel":"e","series":"PREminTDmax","elevation":3900,"rate":0.113},{"panel":"e","series":"PREminTDmax","elevation":4100,"rate":0.124},{"panel":"e","series":"PREminTDmax","elevation":4300,"rate":0.149},{"panel":"e","series":"PREminTDmax","elevation":4500,"rate":0.176},{"panel":"e","series":"PREminTDmax","elevation":4700,"rate":0.182},{"panel":"e","series":"PREminTDmax","elevation":4900,"rate":0.158},{"panel":"e","series":"PREminTDmax","elevation":5100,"rate":0.142},{"panel":"e","series":"PREminTDmax","elevation":5300,"rate":0.129},{"panel":"e","series":"PREminTDmax","elevation":5500,"rate":0.064},
{"panel":"e","series":"PREmaxTNmin","elevation":2700,"rate":0.058},{"panel":"e","series":"PREmaxTNmin","elevation":2900,"rate":0.029},{"panel":"e","series":"PREmaxTNmin","elevation":3100,"rate":0.142},{"panel":"e","series":"PREmaxTNmin","elevation":3300,"rate":0.209},{"panel":"e","series":"PREmaxTNmin","elevation":3500,"rate":0.133},{"panel":"e","series":"PREmaxTNmin","elevation":3700,"rate":0.087},{"panel":"e","series":"PREmaxTNmin","elevation":3900,"rate":0.104},{"panel":"e","series":"PREmaxTNmin","elevation":4100,"rate":0.142},{"panel":"e","series":"PREmaxTNmin","elevation":4300,"rate":0.18},{"panel":"e","series":"PREmaxTNmin","elevation":4500,"rate":0.198},{"panel":"e","series":"PREmaxTNmin","elevation":4700,"rate":0.182},{"panel":"e","series":"PREmaxTNmin","elevation":4900,"rate":0.142},{"panel":"e","series":"PREmaxTNmin","elevation":5100,"rate":0.102},{"panel":"e","series":"PREmaxTNmin","elevation":5300,"rate":0.082},{"panel":"e","series":"PREmaxTNmin","elevation":5500,"rate":0.056},
{"panel":"e","series":"PREmaxTDmin","elevation":2500,"rate":0.167},{"panel":"e","series":"PREmaxTDmin","elevation":2700,"rate":0.062},{"panel":"e","series":"PREmaxTDmin","elevation":2900,"rate":0.056},{"panel":"e","series":"PREmaxTDmin","elevation":3100,"rate":0.107},{"panel":"e","series":"PREmaxTDmin","elevation":3300,"rate":0.151},{"panel":"e","series":"PREmaxTDmin","elevation":3500,"rate":0.158},{"panel":"e","series":"PREmaxTDmin","elevation":3700,"rate":0.127},{"panel":"e","series":"PREmaxTDmin","elevation":3900,"rate":0.129},{"panel":"e","series":"PREmaxTDmin","elevation":4100,"rate":0.144},{"panel":"e","series":"PREmaxTDmin","elevation":4300,"rate":0.178},{"panel":"e","series":"PREmaxTDmin","elevation":4500,"rate":0.198},{"panel":"e","series":"PREmaxTDmin","elevation":4700,"rate":0.198},{"panel":"e","series":"PREmaxTDmin","elevation":4900,"rate":0.176},{"panel":"e","series":"PREmaxTDmin","elevation":5100,"rate":0.147},{"panel":"e","series":"PREmaxTDmin","elevation":5300,"rate":0.118},{"panel":"e","series":"PREmaxTDmin","elevation":5500,"rate":0.171},{"panel":"e","series":"PREmaxTDmin","elevation":5700,"rate":0.429},
{"panel":"e","series":"PREmaxTNmax","elevation":2500,"rate":0.038},{"panel":"e","series":"PREmaxTNmax","elevation":2700,"rate":0.082},{"panel":"e","series":"PREmaxTNmax","elevation":2900,"rate":0.076},{"panel":"e","series":"PREmaxTNmax","elevation":3100,"rate":0.111},{"panel":"e","series":"PREmaxTNmax","elevation":3300,"rate":0.122},{"panel":"e","series":"PREmaxTNmax","elevation":3500,"rate":0.14},{"panel":"e","series":"PREmaxTNmax","elevation":3700,"rate":0.172},{"panel":"e","series":"PREmaxTNmax","elevation":3900,"rate":0.167},{"panel":"e","series":"PREmaxTNmax","elevation":4100,"rate":0.144},{"panel":"e","series":"PREmaxTNmax","elevation":4300,"rate":0.113},{"panel":"e","series":"PREmaxTNmax","elevation":4500,"rate":0.127},{"panel":"e","series":"PREmaxTNmax","elevation":4700,"rate":0.147},{"panel":"e","series":"PREmaxTNmax","elevation":4900,"rate":0.136},{"panel":"e","series":"PREmaxTNmax","elevation":5100,"rate":0.102},{"panel":"e","series":"PREmaxTNmax","elevation":5300,"rate":0.091},{"panel":"e","series":"PREmaxTNmax","elevation":5500,"rate":0.089},
{"panel":"e","series":"PREmaxTDmax","elevation":2500,"rate":0.051},{"panel":"e","series":"PREmaxTDmax","elevation":2700,"rate":0.098},{"panel":"e","series":"PREmaxTDmax","elevation":2900,"rate":0.098},{"panel":"e","series":"PREmaxTDmax","elevation":3100,"rate":0.067},{"panel":"e","series":"PREmaxTDmax","elevation":3300,"rate":0.082},{"panel":"e","series":"PREmaxTDmax","elevation":3500,"rate":0.096},{"panel":"e","series":"PREmaxTDmax","elevation":3700,"rate":0.107},{"panel":"e","series":"PREmaxTDmax","elevation":3900,"rate":0.129},{"panel":"e","series":"PREmaxTDmax","elevation":4100,"rate":0.113},{"panel":"e","series":"PREmaxTDmax","elevation":4300,"rate":0.093},{"panel":"e","series":"PREmaxTDmax","elevation":4500,"rate":0.093},{"panel":"e","series":"PREmaxTDmax","elevation":4700,"rate":0.098},{"panel":"e","series":"PREmaxTDmax","elevation":4900,"rate":0.113},{"panel":"e","series":"PREmaxTDmax","elevation":5100,"rate":0.096},{"panel":"e","series":"PREmaxTDmax","elevation":5300,"rate":0.051},{"panel":"e","series":"PREmaxTDmax","elevation":5500,"rate":0.124},

{"panel":"f","series":"PREmaxTNmin","elevation":2500,"rate":0.224},{"panel":"f","series":"PREmaxTNmin","elevation":2700,"rate":0.316},{"panel":"f","series":"PREmaxTNmin","elevation":2900,"rate":0.35},{"panel":"f","series":"PREmaxTNmin","elevation":3100,"rate":0.278},{"panel":"f","series":"PREmaxTNmin","elevation":3300,"rate":0.162},{"panel":"f","series":"PREmaxTNmin","elevation":3500,"rate":0.129},{"panel":"f","series":"PREmaxTNmin","elevation":3700,"rate":0.1},{"panel":"f","series":"PREmaxTNmin","elevation":3900,"rate":0.193},{"panel":"f","series":"PREmaxTNmin","elevation":4100,"rate":0.176},{"panel":"f","series":"PREmaxTNmin","elevation":4300,"rate":0.118},{"panel":"f","series":"PREmaxTNmin","elevation":4500,"rate":0.098},{"panel":"f","series":"PREmaxTNmin","elevation":4700,"rate":0.087},{"panel":"f","series":"PREmaxTNmin","elevation":4900,"rate":0.08},{"panel":"f","series":"PREmaxTNmin","elevation":5100,"rate":0.084},{"panel":"f","series":"PREmaxTNmin","elevation":5300,"rate":0.089},{"panel":"f","series":"PREmaxTNmin","elevation":5500,"rate":0.109},
{"panel":"f","series":"PREmaxTDmin","elevation":2500,"rate":0.196},{"panel":"f","series":"PREmaxTDmin","elevation":2700,"rate":0.28},{"panel":"f","series":"PREmaxTDmin","elevation":2900,"rate":0.289},{"panel":"f","series":"PREmaxTDmin","elevation":3100,"rate":0.256},{"panel":"f","series":"PREmaxTDmin","elevation":3300,"rate":0.216},{"panel":"f","series":"PREmaxTDmin","elevation":3500,"rate":0.173},{"panel":"f","series":"PREmaxTDmin","elevation":3700,"rate":0.129},{"panel":"f","series":"PREmaxTDmin","elevation":3900,"rate":0.14},{"panel":"f","series":"PREmaxTDmin","elevation":4100,"rate":0.129},{"panel":"f","series":"PREmaxTDmin","elevation":4300,"rate":0.091},{"panel":"f","series":"PREmaxTDmin","elevation":4500,"rate":0.107},{"panel":"f","series":"PREmaxTDmin","elevation":4700,"rate":0.113},{"panel":"f","series":"PREmaxTDmin","elevation":4900,"rate":0.118},{"panel":"f","series":"PREmaxTDmin","elevation":5100,"rate":0.14},{"panel":"f","series":"PREmaxTDmin","elevation":5300,"rate":0.129},{"panel":"f","series":"PREmaxTDmin","elevation":5500,"rate":0.107},
{"panel":"f","series":"PREmaxTNmax","elevation":2500,"rate":0.113},{"panel":"f","series":"PREmaxTNmax","elevation":2700,"rate":0.251},{"panel":"f","series":"PREmaxTNmax","elevation":2900,"rate":0.322},{"panel":"f","series":"PREmaxTNmax","elevation":3100,"rate":0.256},{"panel":"f","series":"PREmaxTNmax","elevation":3300,"rate":0.249},{"panel":"f","series":"PREmaxTNmax","elevation":3500,"rate":0.193},{"panel":"f","series":"PREmaxTNmax","elevation":3700,"rate":0.156},{"panel":"f","series":"PREmaxTNmax","elevation":3900,"rate":0.171},{"panel":"f","series":"PREmaxTNmax","elevation":4100,"rate":0.209},{"panel":"f","series":"PREmaxTNmax","elevation":4300,"rate":0.249},{"panel":"f","series":"PREmaxTNmax","elevation":4500,"rate":0.24},{"panel":"f","series":"PREmaxTNmax","elevation":4700,"rate":0.207},{"panel":"f","series":"PREmaxTNmax","elevation":4900,"rate":0.18},{"panel":"f","series":"PREmaxTNmax","elevation":5100,"rate":0.169},{"panel":"f","series":"PREmaxTNmax","elevation":5300,"rate":0.176},{"panel":"f","series":"PREmaxTNmax","elevation":5500,"rate":0.218},
{"panel":"f","series":"PREmaxTDmax","elevation":2500,"rate":0.3},{"panel":"f","series":"PREmaxTDmax","elevation":2700,"rate":0.251},{"panel":"f","series":"PREmaxTDmax","elevation":2900,"rate":0.331},{"panel":"f","series":"PREmaxTDmax","elevation":3100,"rate":0.313},{"panel":"f","series":"PREmaxTDmax","elevation":3300,"rate":0.291},{"panel":"f","series":"PREmaxTDmax","elevation":3500,"rate":0.247},{"panel":"f","series":"PREmaxTDmax","elevation":3700,"rate":0.227},{"panel":"f","series":"PREmaxTDmax","elevation":3900,"rate":0.222},{"panel":"f","series":"PREmaxTDmax","elevation":4100,"rate":0.264},{"panel":"f","series":"PREmaxTDmax","elevation":4300,"rate":0.262},{"panel":"f","series":"PREmaxTDmax","elevation":4500,"rate":0.251},{"panel":"f","series":"PREmaxTDmax","elevation":4700,"rate":0.242},{"panel":"f","series":"PREmaxTDmax","elevation":4900,"rate":0.207},{"panel":"f","series":"PREmaxTDmax","elevation":5100,"rate":0.169},{"panel":"f","series":"PREmaxTDmax","elevation":5300,"rate":0.231},{"panel":"f","series":"PREmaxTDmax","elevation":5500,"rate":0.502},
{"panel":"f","series":"PREminTDmax","elevation":2500,"rate":0.058},{"panel":"f","series":"PREminTDmax","elevation":2700,"rate":0.051},{"panel":"f","series":"PREminTDmax","elevation":2900,"rate":0.027},{"panel":"f","series":"PREminTDmax","elevation":3100,"rate":0.031},{"panel":"f","series":"PREminTDmax","elevation":3300,"rate":0.027},{"panel":"f","series":"PREminTDmax","elevation":3500,"rate":0.142},{"panel":"f","series":"PREminTDmax","elevation":3700,"rate":0.18},{"panel":"f","series":"PREminTDmax","elevation":3900,"rate":0.164},{"panel":"f","series":"PREminTDmax","elevation":4100,"rate":0.18},{"panel":"f","series":"PREminTDmax","elevation":4300,"rate":0.162},{"panel":"f","series":"PREminTDmax","elevation":4500,"rate":0.116},{"panel":"f","series":"PREminTDmax","elevation":4700,"rate":0.071},{"panel":"f","series":"PREminTDmax","elevation":4900,"rate":0.06},{"panel":"f","series":"PREminTDmax","elevation":5100,"rate":0.053},{"panel":"f","series":"PREminTDmax","elevation":5300,"rate":0.053},{"panel":"f","series":"PREminTDmax","elevation":5500,"rate":0.058},
{"panel":"f","series":"PREminTNmax","elevation":2500,"rate":0.06},{"panel":"f","series":"PREminTNmax","elevation":2700,"rate":0.076},{"panel":"f","series":"PREminTNmax","elevation":2900,"rate":0.038},{"panel":"f","series":"PREminTNmax","elevation":3100,"rate":0.033},{"panel":"f","series":"PREminTNmax","elevation":3300,"rate":0.029},{"panel":"f","series":"PREminTNmax","elevation":3500,"rate":0.158},{"panel":"f","series":"PREminTNmax","elevation":3700,"rate":0.222},{"panel":"f","series":"PREminTNmax","elevation":3900,"rate":0.2},{"panel":"f","series":"PREminTNmax","elevation":4100,"rate":0.167},{"panel":"f","series":"PREminTNmax","elevation":4300,"rate":0.104},{"panel":"f","series":"PREminTNmax","elevation":4500,"rate":0.064},{"panel":"f","series":"PREminTNmax","elevation":4700,"rate":0.044},{"panel":"f","series":"PREminTNmax","elevation":4900,"rate":0.058},{"panel":"f","series":"PREminTNmax","elevation":5100,"rate":0.073},{"panel":"f","series":"PREminTNmax","elevation":5300,"rate":0.084},{"panel":"f","series":"PREminTNmax","elevation":5500,"rate":0.169},
{"panel":"f","series":"PREminTDmin","elevation":2500,"rate":0.104},{"panel":"f","series":"PREminTDmin","elevation":2700,"rate":0.042},{"panel":"f","series":"PREminTDmin","elevation":2900,"rate":0.036},{"panel":"f","series":"PREminTDmin","elevation":3100,"rate":0.08},{"panel":"f","series":"PREminTDmin","elevation":3300,"rate":0.051},{"panel":"f","series":"PREminTDmin","elevation":3500,"rate":0.076},{"panel":"f","series":"PREminTDmin","elevation":3700,"rate":0.098},{"panel":"f","series":"PREminTDmin","elevation":3900,"rate":0.109},{"panel":"f","series":"PREminTDmin","elevation":4100,"rate":0.12},{"panel":"f","series":"PREminTDmin","elevation":4300,"rate":0.109},{"panel":"f","series":"PREminTDmin","elevation":4500,"rate":0.091},{"panel":"f","series":"PREminTDmin","elevation":4700,"rate":0.078},{"panel":"f","series":"PREminTDmin","elevation":4900,"rate":0.064},{"panel":"f","series":"PREminTDmin","elevation":5100,"rate":0.053},{"panel":"f","series":"PREminTDmin","elevation":5300,"rate":0.04},
{"panel":"f","series":"PREminTNmin","elevation":2500,"rate":0.029},{"panel":"f","series":"PREminTNmin","elevation":2700,"rate":0.056},{"panel":"f","series":"PREminTNmin","elevation":2900,"rate":0.056},{"panel":"f","series":"PREminTNmin","elevation":3100,"rate":0.049},{"panel":"f","series":"PREminTNmin","elevation":3300,"rate":0.049},{"panel":"f","series":"PREminTNmin","elevation":3500,"rate":0.096},{"panel":"f","series":"PREminTNmin","elevation":3700,"rate":0.151},{"panel":"f","series":"PREminTNmin","elevation":3900,"rate":0.142},{"panel":"f","series":"PREminTNmin","elevation":4100,"rate":0.147},{"panel":"f","series":"PREminTNmin","elevation":4300,"rate":0.113},{"panel":"f","series":"PREminTNmin","elevation":4500,"rate":0.102},{"panel":"f","series":"PREminTNmin","elevation":4700,"rate":0.104},{"panel":"f","series":"PREminTNmin","elevation":4900,"rate":0.098},{"panel":"f","series":"PREminTNmin","elevation":5100,"rate":0.082},{"panel":"f","series":"PREminTNmin","elevation":5300,"rate":0.073},{"panel":"f","series":"PREminTNmin","elevation":5500,"rate":0.062}
]},
"columns": 2,
"spacing": {"row": 0, "column": 129},
"bounds": "flush",
"resolve": {"scale": {"color": "shared"}, "legend": {"color": "shared"}},
"concat": [
{"width": 1918, "height": 671, "layer": [
 {"data": {"name": "d"}, "transform": [{"filter": "datum.panel === 'a'"}], "mark": "line",
  "encoding": {
   "x": {"field": "elevation", "type": "quantitative", "scale": {"domain": [1600, 5800], "nice": false, "zero": false}, "axis": {"orient": "bottom", "values": [1600,1800,2000,2200,2400,2600,2800,3000,3200,3400,3600,3800,4000,4200,4400,4600,4800,5000,5200,5400,5600,5800], "format": "d", "labels": false, "title": null, "tickSize": -15, "grid": true, "gridColor": "#cccccc", "gridWidth": 2, "gridOpacity": {"condition": {"test": "(datum.value - 1600) % 600 === 0", "value": 1}, "value": 0}}},
   "y": {"field": "rate", "type": "quantitative", "scale": {"domain": [0, 0.65], "nice": false}, "axis": {"orient": "left", "values": [0, 0.2, 0.4, 0.6], "labelExpr": "datum.value === 0 ? '0' : format(datum.value, '.1f')", "title": "Coincidence rate", "titleFontSize": 68, "titlePadding": 12, "labelPadding": 40, "tickSize": -16, "grid": true, "gridWidth": 5, "gridDash": {"condition": {"test": "datum.value > 0.5", "value": []}, "value": [16, 12]}, "gridColor": {"condition": {"test": "datum.value > 0.5", "value": "#d0d0d0"}, "value": "#9a9a9a"}, "gridOpacity": {"condition": {"test": "datum.value === 0", "value": 0}, "value": 1}}},
   "color": {"field": "series", "type": "nominal", "scale": {"domain": ["PREminTNmin","PREminTDmin","PREminTNmax","PREminTDmax","PREmaxTNmin","PREmaxTDmin","PREmaxTNmax","PREmaxTDmax"], "range": ["#f3e27f","#efb21f","#e07b29","#c64f3c","#172b78","#1e6c8b","#1fa37a","#cdeb9d"]}, "legend": {"orient": "none", "legendX": 889, "legendY": 2195, "direction": "horizontal", "columns": 4, "title": null}}
  }},
 {"data": {"values": [{"label": "(a)"}]}, "mark": {"type": "text", "align": "left", "baseline": "middle", "fontSize": 72, "fontWeight": "bold", "font": "Liberation Serif", "color": "#111111"},
  "encoding": {
   "x": {"datum": 1690, "type": "quantitative", "axis": {"orient": "top", "values": [1600,1800,2000,2200,2400,2600,2800,3000,3200,3400,3600,3800,4000,4200,4400,4600,4800,5000,5200,5400,5600,5800], "labels": false, "title": null, "grid": false, "tickSize": -15}},
   "y": {"datum": 0.54, "type": "quantitative", "axis": {"orient": "right", "values": [0.2, 0.4, 0.6], "labels": false, "title": null, "grid": false, "tickSize": -16}},
   "text": {"field": "label"}
  }}
]},
{"width": 1918, "height": 671, "layer": [
 {"data": {"name": "d"}, "transform": [{"filter": "datum.panel === 'b'"}], "mark": "line",
  "encoding": {
   "x": {"field": "elevation", "type": "quantitative", "scale": {"domain": [1600, 5800], "nice": false, "zero": false}, "axis": {"orient": "bottom", "values": [1600,1800,2000,2200,2400,2600,2800,3000,3200,3400,3600,3800,4000,4200,4400,4600,4800,5000,5200,5400,5600,5800], "format": "d", "labels": false, "title": null, "tickSize": -15, "grid": true, "gridColor": "#cccccc", "gridWidth": 2, "gridOpacity": {"condition": {"test": "(datum.value - 1600) % 600 === 0", "value": 1}, "value": 0}}},
   "y": {"field": "rate", "type": "quantitative", "scale": {"domain": [0, 0.65], "nice": false}, "axis": {"orient": "left", "values": [0, 0.2, 0.4, 0.6], "labels": false, "title": null, "tickSize": -16, "grid": true, "gridWidth": 5, "gridDash": {"condition": {"test": "datum.value > 0.5", "value": []}, "value": [16, 12]}, "gridColor": {"condition": {"test": "datum.value > 0.5", "value": "#d0d0d0"}, "value": "#9a9a9a"}, "gridOpacity": {"condition": {"test": "datum.value === 0", "value": 0}, "value": 1}}},
   "color": {"field": "series", "type": "nominal", "scale": {"domain": ["PREminTNmin","PREminTDmin","PREminTNmax","PREminTDmax","PREmaxTNmin","PREmaxTDmin","PREmaxTNmax","PREmaxTDmax"], "range": ["#f3e27f","#efb21f","#e07b29","#c64f3c","#172b78","#1e6c8b","#1fa37a","#cdeb9d"]}, "legend": {"orient": "none", "legendX": 889, "legendY": 2195, "direction": "horizontal", "columns": 4, "title": null}}
  }},
 {"data": {"values": [{"label": "(b)"}]}, "mark": {"type": "text", "align": "left", "baseline": "middle", "fontSize": 72, "fontWeight": "bold", "font": "Liberation Serif", "color": "#111111"},
  "encoding": {
   "x": {"datum": 1690, "type": "quantitative", "axis": {"orient": "top", "values": [1600,1800,2000,2200,2400,2600,2800,3000,3200,3400,3600,3800,4000,4200,4400,4600,4800,5000,5200,5400,5600,5800], "labels": false, "title": null, "grid": false, "tickSize": -15}},
   "y": {"datum": 0.54, "type": "quantitative", "axis": {"orient": "right", "values": [0.2, 0.4, 0.6], "labels": false, "title": null, "grid": false, "tickSize": -16}},
   "text": {"field": "label"}
  }}
]},
{"width": 1918, "height": 671, "layer": [
 {"data": {"name": "d"}, "transform": [{"filter": "datum.panel === 'c'"}], "mark": "line",
  "encoding": {
   "x": {"field": "elevation", "type": "quantitative", "scale": {"domain": [1600, 5800], "nice": false, "zero": false}, "axis": {"orient": "bottom", "values": [1600,1800,2000,2200,2400,2600,2800,3000,3200,3400,3600,3800,4000,4200,4400,4600,4800,5000,5200,5400,5600,5800], "format": "d", "labels": false, "title": null, "tickSize": -15, "grid": true, "gridColor": "#cccccc", "gridWidth": 2, "gridOpacity": {"condition": {"test": "(datum.value - 1600) % 600 === 0", "value": 1}, "value": 0}}},
   "y": {"field": "rate", "type": "quantitative", "scale": {"domain": [0, 0.65], "nice": false}, "axis": {"orient": "left", "values": [0, 0.2, 0.4, 0.6], "labelExpr": "datum.value === 0 ? '0' : format(datum.value, '.1f')", "title": "Coincidence rate", "titleFontSize": 68, "titlePadding": 12, "labelPadding": 40, "tickSize": -16, "grid": true, "gridWidth": 5, "gridDash": {"condition": {"test": "datum.value > 0.5", "value": []}, "value": [16, 12]}, "gridColor": {"condition": {"test": "datum.value > 0.5", "value": "#d0d0d0"}, "value": "#9a9a9a"}, "gridOpacity": {"condition": {"test": "datum.value === 0", "value": 0}, "value": 1}}},
   "color": {"field": "series", "type": "nominal", "scale": {"domain": ["PREminTNmin","PREminTDmin","PREminTNmax","PREminTDmax","PREmaxTNmin","PREmaxTDmin","PREmaxTNmax","PREmaxTDmax"], "range": ["#f3e27f","#efb21f","#e07b29","#c64f3c","#172b78","#1e6c8b","#1fa37a","#cdeb9d"]}, "legend": {"orient": "none", "legendX": 889, "legendY": 2195, "direction": "horizontal", "columns": 4, "title": null}}
  }},
 {"data": {"values": [{"label": "(c)"}]}, "mark": {"type": "text", "align": "left", "baseline": "middle", "fontSize": 72, "fontWeight": "bold", "font": "Liberation Serif", "color": "#111111"},
  "encoding": {
   "x": {"datum": 1690, "type": "quantitative", "axis": {"orient": "top", "values": [1600,1800,2000,2200,2400,2600,2800,3000,3200,3400,3600,3800,4000,4200,4400,4600,4800,5000,5200,5400,5600,5800], "labels": false, "title": null, "grid": false, "tickSize": -15}},
   "y": {"datum": 0.54, "type": "quantitative", "axis": {"orient": "right", "values": [0.2, 0.4, 0.6], "labels": false, "title": null, "grid": false, "tickSize": -16}},
   "text": {"field": "label"}
  }}
]},
{"width": 1918, "height": 671, "layer": [
 {"data": {"name": "d"}, "transform": [{"filter": "datum.panel === 'd'"}], "mark": "line",
  "encoding": {
   "x": {"field": "elevation", "type": "quantitative", "scale": {"domain": [1600, 5800], "nice": false, "zero": false}, "axis": {"orient": "bottom", "values": [1600,1800,2000,2200,2400,2600,2800,3000,3200,3400,3600,3800,4000,4200,4400,4600,4800,5000,5200,5400,5600,5800], "format": "d", "labels": false, "title": null, "tickSize": -15, "grid": true, "gridColor": "#cccccc", "gridWidth": 2, "gridOpacity": {"condition": {"test": "(datum.value - 1600) % 600 === 0", "value": 1}, "value": 0}}},
   "y": {"field": "rate", "type": "quantitative", "scale": {"domain": [0, 0.65], "nice": false}, "axis": {"orient": "left", "values": [0, 0.2, 0.4, 0.6], "labels": false, "title": null, "tickSize": -16, "grid": true, "gridWidth": 5, "gridDash": {"condition": {"test": "datum.value > 0.5", "value": []}, "value": [16, 12]}, "gridColor": {"condition": {"test": "datum.value > 0.5", "value": "#d0d0d0"}, "value": "#9a9a9a"}, "gridOpacity": {"condition": {"test": "datum.value === 0", "value": 0}, "value": 1}}},
   "color": {"field": "series", "type": "nominal", "scale": {"domain": ["PREminTNmin","PREminTDmin","PREminTNmax","PREminTDmax","PREmaxTNmin","PREmaxTDmin","PREmaxTNmax","PREmaxTDmax"], "range": ["#f3e27f","#efb21f","#e07b29","#c64f3c","#172b78","#1e6c8b","#1fa37a","#cdeb9d"]}, "legend": {"orient": "none", "legendX": 889, "legendY": 2195, "direction": "horizontal", "columns": 4, "title": null}}
  }},
 {"data": {"values": [{"label": "(d)"}]}, "mark": {"type": "text", "align": "left", "baseline": "middle", "fontSize": 72, "fontWeight": "bold", "font": "Liberation Serif", "color": "#111111"},
  "encoding": {
   "x": {"datum": 1690, "type": "quantitative", "axis": {"orient": "top", "values": [1600,1800,2000,2200,2400,2600,2800,3000,3200,3400,3600,3800,4000,4200,4400,4600,4800,5000,5200,5400,5600,5800], "labels": false, "title": null, "grid": false, "tickSize": -15}},
   "y": {"datum": 0.54, "type": "quantitative", "axis": {"orient": "right", "values": [0.2, 0.4, 0.6], "labels": false, "title": null, "grid": false, "tickSize": -16}},
   "text": {"field": "label"}
  }}
]},
{"width": 1918, "height": 671, "layer": [
 {"data": {"name": "d"}, "transform": [{"filter": "datum.panel === 'e'"}], "mark": "line",
  "encoding": {
   "x": {"field": "elevation", "type": "quantitative", "scale": {"domain": [1600, 5800], "nice": false, "zero": false}, "axis": {"orient": "bottom", "values": [1600,1800,2000,2200,2400,2600,2800,3000,3200,3400,3600,3800,4000,4200,4400,4600,4800,5000,5200,5400,5600,5800], "format": "d", "labelExpr": "(datum.value - 1600) % 600 === 0 ? datum.label : ''", "labelFlush": false, "labelOverlap": false, "labelPadding": 56, "title": "Elevation(m)", "titleFontSize": 57, "titlePadding": 32, "tickSize": -15, "grid": true, "gridColor": "#cccccc", "gridWidth": 2, "gridOpacity": {"condition": {"test": "(datum.value - 1600) % 600 === 0", "value": 1}, "value": 0}}},
   "y": {"field": "rate", "type": "quantitative", "scale": {"domain": [0, 0.65], "nice": false}, "axis": {"orient": "left", "values": [0, 0.2, 0.4, 0.6], "labelExpr": "datum.value === 0 ? '0' : format(datum.value, '.1f')", "title": "Coincidence rate", "titleFontSize": 68, "titlePadding": 12, "labelPadding": 40, "tickSize": -16, "grid": true, "gridWidth": 5, "gridDash": {"condition": {"test": "datum.value > 0.5", "value": []}, "value": [16, 12]}, "gridColor": {"condition": {"test": "datum.value > 0.5", "value": "#d0d0d0"}, "value": "#9a9a9a"}, "gridOpacity": {"condition": {"test": "datum.value === 0", "value": 0}, "value": 1}}},
   "color": {"field": "series", "type": "nominal", "scale": {"domain": ["PREminTNmin","PREminTDmin","PREminTNmax","PREminTDmax","PREmaxTNmin","PREmaxTDmin","PREmaxTNmax","PREmaxTDmax"], "range": ["#f3e27f","#efb21f","#e07b29","#c64f3c","#172b78","#1e6c8b","#1fa37a","#cdeb9d"]}, "legend": {"orient": "none", "legendX": 889, "legendY": 2195, "direction": "horizontal", "columns": 4, "title": null}}
  }},
 {"data": {"values": [{"label": "(e)"}]}, "mark": {"type": "text", "align": "left", "baseline": "middle", "fontSize": 72, "fontWeight": "bold", "font": "Liberation Serif", "color": "#111111"},
  "encoding": {
   "x": {"datum": 1690, "type": "quantitative", "axis": {"orient": "top", "values": [1600,1800,2000,2200,2400,2600,2800,3000,3200,3400,3600,3800,4000,4200,4400,4600,4800,5000,5200,5400,5600,5800], "labels": false, "title": null, "grid": false, "tickSize": -15}},
   "y": {"datum": 0.54, "type": "quantitative", "axis": {"orient": "right", "values": [0.2, 0.4, 0.6], "labels": false, "title": null, "grid": false, "tickSize": -16}},
   "text": {"field": "label"}
  }}
]},
{"width": 1918, "height": 671, "layer": [
 {"data": {"name": "d"}, "transform": [{"filter": "datum.panel === 'f'"}], "mark": "line",
  "encoding": {
   "x": {"field": "elevation", "type": "quantitative", "scale": {"domain": [1600, 5800], "nice": false, "zero": false}, "axis": {"orient": "bottom", "values": [1600,1800,2000,2200,2400,2600,2800,3000,3200,3400,3600,3800,4000,4200,4400,4600,4800,5000,5200,5400,5600,5800], "format": "d", "labelExpr": "(datum.value - 1600) % 600 === 0 ? datum.label : ''", "labelFlush": false, "labelOverlap": false, "labelPadding": 56, "title": "Elevation(m)", "titleFontSize": 57, "titlePadding": 32, "tickSize": -15, "grid": true, "gridColor": "#cccccc", "gridWidth": 2, "gridOpacity": {"condition": {"test": "(datum.value - 1600) % 600 === 0", "value": 1}, "value": 0}}},
   "y": {"field": "rate", "type": "quantitative", "scale": {"domain": [0, 0.65], "nice": false}, "axis": {"orient": "left", "values": [0, 0.2, 0.4, 0.6], "labels": false, "title": null, "tickSize": -16, "grid": true, "gridWidth": 5, "gridDash": {"condition": {"test": "datum.value > 0.5", "value": []}, "value": [16, 12]}, "gridColor": {"condition": {"test": "datum.value > 0.5", "value": "#d0d0d0"}, "value": "#9a9a9a"}, "gridOpacity": {"condition": {"test": "datum.value === 0", "value": 0}, "value": 1}}},
   "color": {"field": "series", "type": "nominal", "scale": {"domain": ["PREminTNmin","PREminTDmin","PREminTNmax","PREminTDmax","PREmaxTNmin","PREmaxTDmin","PREmaxTNmax","PREmaxTDmax"], "range": ["#f3e27f","#efb21f","#e07b29","#c64f3c","#172b78","#1e6c8b","#1fa37a","#cdeb9d"]}, "legend": {"orient": "none", "legendX": 889, "legendY": 2195, "direction": "horizontal", "columns": 4, "title": null}}
  }},
 {"data": {"values": [{"label": "(f)"}]}, "mark": {"type": "text", "align": "left", "baseline": "middle", "fontSize": 72, "fontWeight": "bold", "font": "Liberation Serif", "color": "#111111"},
  "encoding": {
   "x": {"datum": 1690, "type": "quantitative", "axis": {"orient": "top", "values": [1600,1800,2000,2200,2400,2600,2800,3000,3200,3400,3600,3800,4000,4200,4400,4600,4800,5000,5200,5400,5600,5800], "labels": false, "title": null, "grid": false, "tickSize": -15}},
   "y": {"datum": 0.54, "type": "quantitative", "axis": {"orient": "right", "values": [0.2, 0.4, 0.6], "labels": false, "title": null, "grid": false, "tickSize": -16}},
   "text": {"field": "label"}
  }}
]}
],
"config": {
 "view": {"stroke": "#4a4a4a", "strokeWidth": 4},
 "font": "Liberation Serif",
 "axis": {"labelFont": "Liberation Serif", "labelFontWeight": "bold", "labelFontSize": 55, "labelColor": "#1a1a1a", "titleFont": "Liberation Serif", "titleFontWeight": "bold", "titleColor": "#1a1a1a", "domain": false, "tickColor": "#4a4a4a", "tickWidth": 3},
 "legend": {"labelFont": "Liberation Serif", "labelFontWeight": "bold", "labelFontSize": 56, "labelColor": "#111111", "symbolType": "stroke", "symbolSize": 12100, "symbolStrokeWidth": 8, "labelOffset": 12, "columnPadding": 8, "rowPadding": 0, "labelLimit": 0},
 "line": {"strokeWidth": 8, "strokeJoin": "round", "strokeCap": "round"}
}
}
